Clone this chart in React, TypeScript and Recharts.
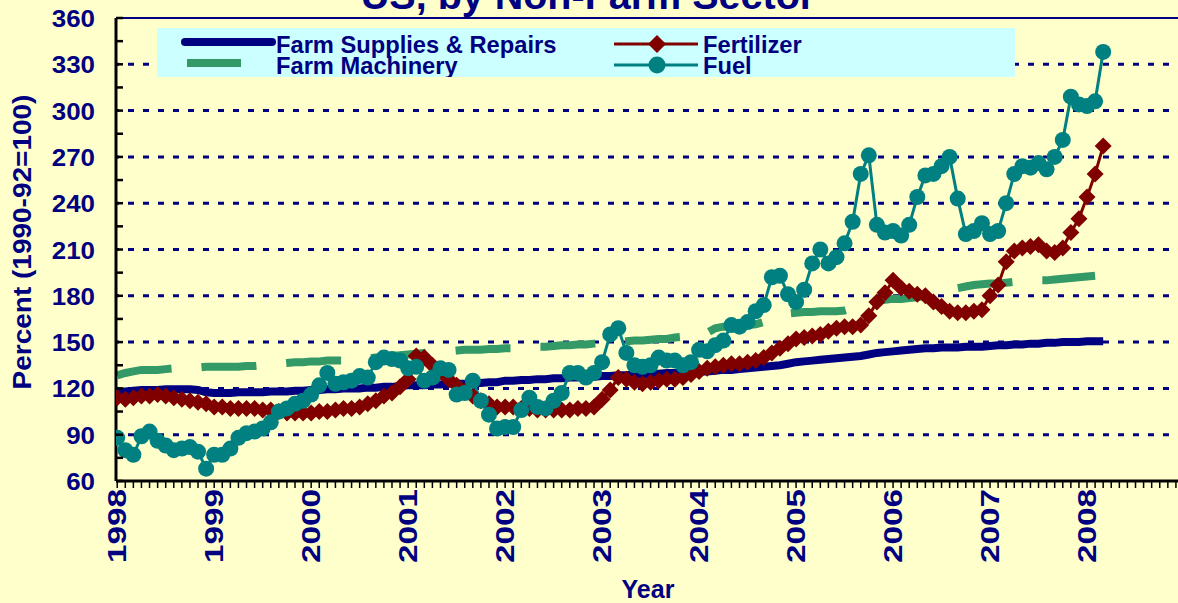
import { LineChart, Line, XAxis, YAxis, CartesianGrid, Legend, ReferenceLine } from 'recharts'

const NAVY = '#000080'
const BG = '#FFFFCC'
const FONT = '"Liberation Sans", Arial, sans-serif'

const years = ['1998', '1999', '2000', '2001', '2002', '2003', '2004', '2005', '2006', '2007', '2008']

// monthly index values, Jan 1998 onward
const supplies = [
  118, 118, 118.5, 119, 119, 119, 119.5, 119.5, 119.5, 119.5, 119, 117.5,
  117, 117, 117, 117.5, 117.5, 117.5, 117.5, 118, 118, 118, 118.5, 118.5,
  119, 119, 119.5, 119.5, 120, 120, 120, 120.5, 120.5, 121, 121, 121.5,
  122, 122, 122, 122.5, 122.5, 123, 123, 123, 123.5, 123.5, 124, 124,
  125, 125, 125.5, 125.5, 126, 126, 126.5, 126.5, 127, 127, 127.5, 127.5,
  128, 128, 128.5, 128.5, 129, 129, 129.5, 129.5, 130, 130, 130.5, 130.5,
  131, 131, 131.5, 132, 132, 132.5, 133, 133.5, 134, 134.5, 135, 136,
  137, 137.5, 138, 138.5, 139, 139.5, 140, 140.5, 141, 142, 143, 143.5,
  144, 144.5, 145, 145.5, 146, 146, 146.5, 146.5, 146.5, 147, 147, 147,
  147.5, 148, 148, 148.5, 148.5, 149, 149, 149.5, 149.5, 150, 150, 150,
  150.5, 150.5, 150.5,
]

const machinery = [
  128.5, 130, 131, 132, 132, 132, 132.5, 133, 133, 133, 133.5, 134,
  134, 134, 134, 134, 134.5, 134.5, 135, 135, 136, 136.5, 137, 137,
  137.5, 137.5, 138, 138, 138, 138.5, 139, 139.5, 140, 140.5, 141, 141.5,
  142, 142.5, 143, 143.5, 144, 144, 144.5, 145, 145, 145, 145.5, 145.5,
  146, 146, 146, 146.5, 147, 147, 147.5, 148, 148, 148.5, 148.5, 149,
  149.5, 150, 150, 150.5, 151, 151, 151.5, 152, 152, 153, 153.5, 154,
  154, 156, 159, 160, 160, 161, 161, 161.5, 163, 165, 167, 168.5,
  169, 169.5, 169.5, 170, 170, 170, 170.5, 172, 174, 176, 177, 177.5,
  178, 178, 178.5, 179, 180, 181, 183, 184, 185, 186, 187, 187.5,
  188, 188, 188.5, 189, 189.5, 190, 190, 190, 190.5, 191, 191.5, 192,
  192.5, 193,
]

const fertilizer = [
  114, 113, 114, 115, 115, 116, 115, 114, 113, 112, 111, 110,
  108, 108, 107, 107, 107, 107, 106, 106, 105, 104, 104, 104,
  104, 105, 105, 106, 107, 107, 108, 110, 112, 115, 117, 121,
  126, 141, 140, 135, 131, 126, 122, 118, 115, 112, 110, 108,
  108, 108, 107, 107, 106, 106, 106, 106, 106, 107, 107, 108,
  113, 119, 127, 126, 124, 123, 124, 125, 126, 126, 127, 129,
  131, 133, 134, 135, 136, 136, 137, 138, 140, 143, 146, 149,
  152, 153, 154, 155, 157, 159, 160, 160, 161, 167, 176, 182,
  190, 185, 183, 181, 180, 176, 173, 170, 169, 169, 170, 171,
  180, 187, 202, 209, 211, 212, 213, 209, 208, 211, 221, 230,
  244, 259, 277,
]

const fuel = [
  88, 80, 77, 89, 92, 86, 83, 80, 81, 82, 79, 68,
  77, 77, 81, 88, 91, 92, 94, 98, 105, 107, 110, 112,
  116, 122, 130, 123, 124, 125, 128, 127, 137, 140, 139, 138,
  133, 134, 125, 127, 133, 132, 116, 117, 125, 112, 103, 94,
  95, 95, 106, 114, 108, 107, 112, 117, 130, 130, 127, 130,
  137, 155, 159, 143, 135, 134, 135, 140, 138, 138, 135, 137,
  145, 144, 148, 151, 161, 160, 163, 170, 174, 192, 193, 181,
  176, 184, 201, 210, 201, 205, 214, 228, 259, 271, 226, 221,
  222, 219, 226, 244, 258, 259, 264, 270, 243, 220, 222, 227,
  220, 222, 240, 259, 264, 263, 266, 262, 270, 281, 309, 304,
  303, 306, 338,
]

const data = fuel.map((v, i) => ({
  m: i,
  supplies: supplies[i] ?? null,
  machinery: machinery[i] ?? null,
  fertilizer: fertilizer[i] ?? null,
  fuel: v,
}))

const monthTicks = Array.from({ length: 133 }, (_, i) => i)
const yTicks = Array.from({ length: 21 }, (_, i) => 60 + i * 15)
const gridValues = [90, 120, 150, 180, 210, 240, 270, 300, 330]

const Diamond = (props: any) => {
  const { cx, cy, index } = props
  if (cx == null || cy == null) return <g key={index} />
  const s = 8.5
  return (
    <polygon key={index} points={`${cx},${cy - s} ${cx + s},${cy} ${cx},${cy + s} ${cx - s},${cy}`} fill="#800000" />
  )
}

const YTick = (props: any) => {
  const { x, y, payload } = props
  const v = payload.value
  return (
    <g>
      <line x1={x + 21} x2={x + 28} y1={y} y2={y} stroke="#000" strokeWidth={2.5} />
      {v % 30 === 0 && (
        <text
          transform={`translate(${x},${y + 9}) scale(1.08,1)`}
          textAnchor="end"
          fill={NAVY}
          fontFamily={FONT}
          fontWeight="bold"
          fontSize={24}
        >
          {v}
        </text>
      )}
    </g>
  )
}

const XTick = (props: any) => {
  const { x, y, payload } = props
  const i = payload.value
  if (i % 12 !== 0 || i > 120) return <g />
  return (
    <text
      transform={`translate(${x + 9},${y + 1}) rotate(-90) scale(1.28,1)`}
      textAnchor="end"
      fill={NAVY}
      fontFamily={FONT}
      fontWeight="bold"
      fontSize={26}
    >
      {years[i / 12]}
    </text>
  )
}

const legendText = { fill: NAVY, fontFamily: FONT, fontWeight: 'bold', fontSize: 23.7 } as const

const LegendBox = () => (
  <svg width={858} height={49} style={{ display: 'block', background: '#CCFFFF' }}>
    <line x1={28} x2={115} y1={14} y2={14} stroke={NAVY} strokeWidth={8} strokeLinecap="round" />
    <text x={119} y={25} {...legendText}>Farm Supplies &amp; Repairs</text>
    <rect x={30} y={31} width={54} height={8} fill="#339966" />
    <text x={119} y={46} {...legendText}>Farm Machinery</text>
    <line x1={457} x2={541} y1={16} y2={16} stroke="#800000" strokeWidth={3} />
    <polygon points="500,7 509,16 500,25 491,16" fill="#800000" />
    <text x={546} y={25} {...legendText}>Fertilizer</text>
    <line x1={457} x2={541} y1={37} y2={37} stroke="#008080" strokeWidth={3} />
    <circle cx={500} cy={37} r={8.5} fill="#008080" />
    <text x={546} y={46} {...legendText}>Fuel</text>
  </svg>
)

export default function App() {
  return (
    <div style={{ position: 'fixed', left: 0, top: 0, width: 1178, height: 603, overflow: 'hidden', background: BG }}>
      <LineChart width={1200} height={603} data={data} margin={{ top: 18, right: 16, bottom: 0, left: 0 }}>
        <CartesianGrid vertical={false} horizontalValues={gridValues} stroke={NAVY} strokeWidth={3} strokeDasharray="6 9" strokeDashoffset={3} />
        <ReferenceLine y={360} stroke={NAVY} strokeWidth={2} />
        <XAxis
          dataKey="m"
          type="number"
          domain={[-0.15, 132]}
          allowDataOverflow
          ticks={monthTicks}
          interval={0}
          height={122}
          tickSize={7}
          tickMargin={0}
          tickLine={{ stroke: '#000', strokeWidth: 1.5 }}
          axisLine={{ stroke: '#000', strokeWidth: 3 }}
          tick={<XTick />}
        />
        <YAxis
          type="number"
          domain={[60, 360]}
          ticks={yTicks}
          interval={0}
          width={116}
          tickSize={0}
          tickMargin={21}
          tickLine={false}
          axisLine={{ stroke: '#000', strokeWidth: 3 }}
          tick={<YTick />}
        />
        <Legend layout="horizontal" verticalAlign="middle" align="center" content={<LegendBox />} wrapperStyle={{ left: 157, top: 28, width: 858, height: 49 }} />
        <Line dataKey="machinery" stroke="#339966" strokeWidth={8} strokeDasharray="55 30" dot={false} activeDot={false} isAnimationActive={false} />
        <Line dataKey="supplies" stroke={NAVY} strokeWidth={8} dot={false} activeDot={false} isAnimationActive={false} />
        <Line dataKey="fertilizer" stroke="#800000" strokeWidth={3} dot={Diamond} activeDot={false} isAnimationActive={false} />
        <Line dataKey="fuel" stroke="#008080" strokeWidth={3} dot={{ r: 8, fill: '#008080', stroke: 'none' }} activeDot={false} isAnimationActive={false} />
      </LineChart>
      <svg width={1178} height={603} style={{ position: 'absolute', left: 0, top: 0, pointerEvents: 'none' }}>
        <text x={588} y={9} textAnchor="middle" fill={NAVY} fontFamily={FONT} fontWeight="bold" fontSize={39.5}>
          US, by Non-Farm Sector
        </text>
        <text transform="translate(31,242) rotate(-90) scale(1.12,1)" textAnchor="middle" fill={NAVY} fontFamily={FONT} fontWeight="bold" fontSize={25}>
          Percent (1990-92=100)
        </text>
        <text x={648} y={598} textAnchor="middle" fill={NAVY} fontFamily={FONT} fontWeight="bold" fontSize={25}>
          Year
        </text>
      </svg>
    </div>
  )
}
